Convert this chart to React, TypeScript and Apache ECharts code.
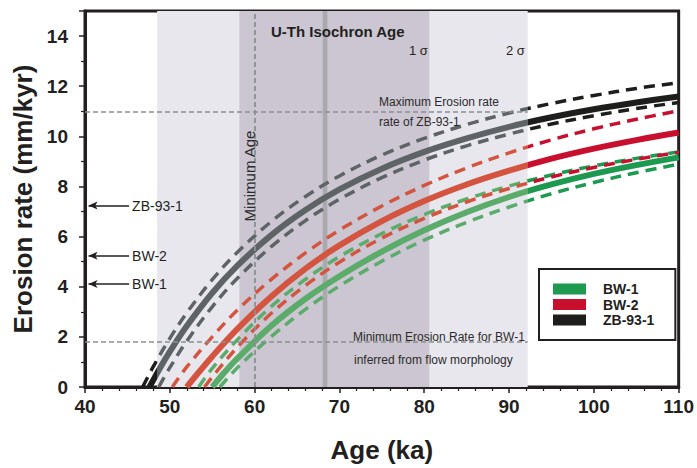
import React, { useEffect, useRef } from 'react';
import * as echarts from 'echarts';

// ---- data (age in ka, erosion rate in mm/kyr) ----
const BW1_UPPER: [number, number][] = [[53.4,0],[55,0.74],[58,1.90],[62,3.22],[66,4.30],[70,5.20],[75,6.12],[80,6.88],[85,7.50],[90,8.02],[95,8.46],[100,8.82],[105,9.12],[110,9.38]];
const BW1_MID: [number, number][] = [[55.0,0],[56,0.41],[58,1.15],[62,2.45],[66,3.52],[70,4.42],[75,5.40],[80,6.25],[85,6.97],[90,7.58],[95,8.08],[100,8.50],[105,8.85],[110,9.16]];
const BW1_LOWER: [number, number][] = [[55.9,0],[58,0.78],[62,2.02],[66,3.10],[70,4.03],[75,5.02],[80,5.86],[85,6.57],[90,7.18],[95,7.71],[100,8.16],[105,8.55],[110,8.89]];
const BW2_UPPER: [number, number][] = [[50.3,0],[52,0.80],[55,2.00],[58,3.08],[62,4.30],[66,5.35],[70,6.26],[75,7.22],[80,8.04],[85,8.74],[90,9.34],[95,9.86],[100,10.30],[105,10.68],[110,11.02]];
const BW2_MID: [number, number][] = [[52.0,0],[53,0.42],[55,1.22],[58,2.33],[62,3.62],[66,4.72],[70,5.65],[75,6.62],[80,7.42],[85,8.08],[90,8.63],[95,9.11],[100,9.51],[105,9.85],[110,10.15]];
const BW2_LOWER: [number, number][] = [[54.1,0],[55,0.40],[58,1.60],[62,2.95],[66,4.05],[70,4.98],[75,5.94],[80,6.73],[85,7.38],[90,7.92],[95,8.38],[100,8.76],[105,9.08],[110,9.36]];
const ZB_UPPER: [number, number][] = [[46.8,0],[48,0.78],[50,1.94],[52,2.96],[55,4.28],[58,5.39],[62,6.61],[66,7.60],[70,8.42],[75,9.25],[80,9.92],[85,10.47],[90,10.93],[95,11.31],[100,11.63],[105,11.91],[110,12.14]];
const ZB_MID: [number, number][] = [[47.6,0],[49,0.85],[50,1.41],[52,2.43],[55,3.75],[58,4.85],[62,6.07],[66,7.06],[70,7.88],[75,8.71],[80,9.38],[85,9.92],[90,10.38],[95,10.76],[100,11.08],[105,11.35],[110,11.59]];
const ZB_LOWER: [number, number][] = [[48.7,0],[50,0.77],[52,1.83],[55,3.20],[58,4.35],[62,5.61],[66,6.64],[70,7.49],[75,8.35],[80,9.05],[85,9.62],[90,10.09],[95,10.49],[100,10.82],[105,11.11],[110,11.35]];

const TWO_SIGMA: [number, number] = [48.5, 92.2];
const ONE_SIGMA: [number, number] = [58.2, 80.6];
const ISO_AGE = 68.3;
const ISO_HALF_WIDTH = 0.27;
const MIN_AGE = 60;
const MAX_RATE_ZB = 11;
const MIN_RATE_BW1 = 1.8;
const MEASURED: { name: string; rate: number }[] = [
  { name: 'ZB-93-1', rate: 7.24 },
  { name: 'BW-2', rate: 5.24 },
  { name: 'BW-1', rate: 4.11 },
];
const X_TICKS = { min: 40, max: 110, interval: 10 };
const Y_TICKS = { min: 0, max: 15, interval: 2 };

const FONT = "'Liberation Sans', Arial, Helvetica, sans-serif";
const INK = '#231f20';
const GREEN = '#1e9a50', GREEN_LIGHT = '#5bab6b';
const RED = '#c8102e', RED_LIGHT = '#d4553f';
const BLACK = '#1d1d1b', BLACK_LIGHT = '#5e6465';
// legend swatch (33 wide) plus an invisible point that widens the icon box to 45
const LEGEND_ICON = 'path://M0,0H33V11H0Z M45,0L45,11';

export default function App() {
  const ref = useRef<HTMLDivElement>(null);
  useEffect(() => {
    document.body.style.margin = '0';
    if (!ref.current) return;
    const chart = echarts.init(ref.current, null, { renderer: 'svg' });

    const curve = (name: string, data: [number, number][], solid: boolean) => ({
      type: 'line',
      name,
      data,
      symbol: 'none',
      showSymbol: false,
      smooth: 0.35,
      silent: true,
      z: solid ? 4 : 3,
      lineStyle: { width: solid ? 6 : 3.5, type: solid ? 'solid' : [11, 7], cap: 'butt' },
    });

    const pieces = (dark: string, light: string) => [
      { lt: TWO_SIGMA[0], color: dark },
      { gte: TWO_SIGMA[0], lte: TWO_SIGMA[1], color: light },
      { gt: TWO_SIGMA[1], color: dark },
    ];

    const dashGrey = { color: '#8a9090', width: 1.5, type: [5, 3] };

    const option: any = {
      animation: false,
      backgroundColor: '#fff',
      grid: { left: 85, right: 11, top: 11, bottom: 76, show: true, borderWidth: 3, borderColor: INK, backgroundColor: 'transparent' },
      xAxis: {
        type: 'value', min: X_TICKS.min, max: X_TICKS.max, interval: X_TICKS.interval,
        name: 'Age (ka)', nameLocation: 'middle', nameGap: 50,
        nameTextStyle: { fontFamily: FONT, fontWeight: 'bold', fontSize: 26, color: INK },
        axisLine: { lineStyle: { color: INK, width: 3 } },
        axisTick: { length: 6, lineStyle: { color: INK, width: 1.5 } },
        minorTick: { show: true, splitNumber: 5, length: 4, lineStyle: { color: INK, width: 1.2 } },
        splitLine: { show: false },
        axisLabel: { fontFamily: FONT, fontWeight: 'bold', fontSize: 19, color: INK, margin: 10 },
      },
      yAxis: {
        type: 'value', min: Y_TICKS.min, max: Y_TICKS.max, interval: Y_TICKS.interval,
        name: 'Erosion rate (mm/kyr)', nameLocation: 'middle', nameGap: 49,
        nameTextStyle: { fontFamily: FONT, fontWeight: 'bold', fontSize: 26, color: INK },
        axisLine: { lineStyle: { color: INK, width: 3 } },
        axisTick: { length: 6, lineStyle: { color: INK, width: 1.5 } },
        minorTick: { show: true, splitNumber: 2, length: 4, lineStyle: { color: INK, width: 1.2 } },
        splitLine: { show: false },
        axisLabel: {
          fontFamily: FONT, fontWeight: 'bold', fontSize: 19, color: INK, margin: 17,
          formatter: (v: number) => (v % Y_TICKS.interval === 0 ? String(v) : ''),
        },
      },
      legend: {
        orient: 'vertical', left: 539, top: 269,
        padding: [13, 21, 13, 14],
        itemWidth: 45, itemHeight: 11, itemGap: 1.5,
        icon: LEGEND_ICON,
        borderColor: INK, borderWidth: 2, backgroundColor: '#fff',
        textStyle: { fontFamily: FONT, fontWeight: 'bold', fontSize: 14, color: INK, lineHeight: 12 },
        itemStyle: { borderWidth: 0 },
        data: [
          { name: 'BW-1', itemStyle: { color: GREEN } },
          { name: 'BW-2', itemStyle: { color: RED } },
          { name: 'ZB-93-1', itemStyle: { color: BLACK } },
        ],
      },
      visualMap: [
        { type: 'piecewise', show: false, dimension: 0, seriesIndex: [0, 1, 2], pieces: pieces(GREEN, GREEN_LIGHT) },
        { type: 'piecewise', show: false, dimension: 0, seriesIndex: [3, 4, 5], pieces: pieces(RED, RED_LIGHT) },
        { type: 'piecewise', show: false, dimension: 0, seriesIndex: [6, 7, 8], pieces: pieces(BLACK, BLACK_LIGHT) },
      ],
      series: [
        curve('BW-1 upper', BW1_UPPER, false),
        curve('BW-1 lower', BW1_LOWER, false),
        curve('BW-1', BW1_MID, true),
        curve('BW-2 upper', BW2_UPPER, false),
        curve('BW-2 lower', BW2_LOWER, false),
        curve('BW-2', BW2_MID, true),
        curve('ZB-93-1 upper', ZB_UPPER, false),
        curve('ZB-93-1 lower', ZB_LOWER, false),
        curve('ZB-93-1', ZB_MID, true),
        {
          type: 'line',
          name: 'annotations',
          data: [],
          silent: true,
          markArea: {
            silent: true,
            data: [
              [{ xAxis: TWO_SIGMA[0], itemStyle: { color: '#e9e7ee' } }, { xAxis: TWO_SIGMA[1] }],
              [{ xAxis: ONE_SIGMA[0], itemStyle: { color: '#cbc6d1' } }, { xAxis: ONE_SIGMA[1] }],
              [{ xAxis: ISO_AGE - ISO_HALF_WIDTH, itemStyle: { color: '#a9a9ae' } }, { xAxis: ISO_AGE + ISO_HALF_WIDTH }],
            ],
          },
          markLine: {
            silent: true,
            symbol: 'none',
            label: { show: false },
            data: [
              { xAxis: MIN_AGE, lineStyle: { ...dashGrey, width: 1.8 } },
              [{ coord: [X_TICKS.min, MAX_RATE_ZB], lineStyle: dashGrey }, { coord: [TWO_SIGMA[1], MAX_RATE_ZB] }],
              [{ coord: [X_TICKS.min, MIN_RATE_BW1], lineStyle: dashGrey }, { coord: [TWO_SIGMA[1], MIN_RATE_BW1] }],
              ...MEASURED.map((m) => [
                {
                  coord: [45.2, m.rate], name: m.name, symbol: 'none',
                  lineStyle: { color: INK, width: 1.5, type: 'solid' },
                  label: { show: true, position: 'start', distance: 3, formatter: m.name, fontFamily: FONT, fontSize: 14, color: INK },
                },
                { coord: [40.42, m.rate], symbol: 'arrow', symbolSize: [6, 9] },
              ]),
            ],
          },
        },
      ],
      graphic: [
        { type: 'text', x: 271, y: 31, z: 10, style: { text: 'U-Th Isochron Age', fontFamily: FONT, fontWeight: 'bold', fontSize: 15, fill: INK, verticalAlign: 'middle' } },
        { type: 'text', x: 409, y: 50, z: 10, style: { text: '1 σ', fontFamily: FONT, fontSize: 13, fill: INK, verticalAlign: 'middle' } },
        { type: 'text', x: 506, y: 50, z: 10, style: { text: '2 σ', fontFamily: FONT, fontSize: 13, fill: INK, verticalAlign: 'middle' } },
        { type: 'text', x: 379, y: 102, z: 10, style: { text: 'Maximum Erosion rate', fontFamily: FONT, fontSize: 12, fill: '#2b2b2b', verticalAlign: 'middle' } },
        { type: 'text', x: 379, y: 122, z: 10, style: { text: 'rate of ZB-93-1', fontFamily: FONT, fontSize: 12, fill: '#2b2b2b', verticalAlign: 'middle' } },
        { type: 'text', x: 353, y: 337, z: 10, style: { text: 'Minimum Erosion Rate for BW-1', fontFamily: FONT, fontSize: 12, fill: '#2b2b2b', verticalAlign: 'middle' } },
        { type: 'text', x: 354, y: 360, z: 10, style: { text: 'inferred from flow morphology', fontFamily: FONT, fontSize: 12, fill: '#2b2b2b', verticalAlign: 'middle' } },
        { type: 'text', x: 249, y: 176, rotation: Math.PI / 2, z: 10, style: { text: 'Minimum Age', fontFamily: FONT, fontSize: 15, fill: '#2b2b2b', align: 'center', verticalAlign: 'middle' } },
      ],
    };
    chart.setOption(option);
    return () => chart.dispose();
  }, []);
  return <div ref={ref} style={{ width: 697, height: 468 }} />;
}
